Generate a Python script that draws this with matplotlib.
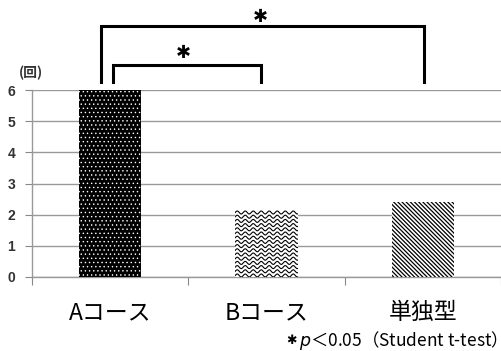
import numpy as np
import matplotlib.pyplot as plt

plt.rcParams['font.family'] = ['Noto Sans CJK JP', 'DejaVu Sans']
plt.rcParams['hatch.linewidth'] = 1.0

# data
categories = ['Aコース', 'Bコース', '単独型']
values = [6.0, 2.2, 2.4]
y_ticks = [0, 1, 2, 3, 4, 5, 6]
unit_label = '(回)'
footnote = '$p$＜0.05（Student t-test）'

fig = plt.figure(figsize=(5.01, 3.51), dpi=100)
ax = fig.add_axes([32/501, 74/351, 1 - 32/501, 187/351])

x = np.arange(len(categories))
bars = ax.bar(x, values, width=0.4, zorder=3)

# A: black with small white dots
bars[0].set_facecolor('black')
bars[0].set_edgecolor('white')
bars[0].set_hatch('....')
bars[0].set_linewidth(0)
if hasattr(bars[0], 'set_hatch_linewidth'):
    bars[0].set_hatch_linewidth(0.5)

# B: white with wavy lines (texture clipped to the bar)
bars[1].set_facecolor('white')
bars[1].set_linewidth(0)
bx0 = bars[1].get_x()
bw = bars[1].get_width()
bh = bars[1].get_height()
xs = np.linspace(bx0, bx0 + bw, 300)
px_x = 1 / 156.3
px_y = 1 / 31.17
period = 8 * px_x
amp = 1.5 * px_y
yy = amp
while yy < bh - amp:
    ln, = ax.plot(xs, yy + amp * np.sin(2 * np.pi * (xs - bx0) / period),
                  color='black', lw=0.8, zorder=4)
    ln.set_clip_path(bars[1])
    yy += 4.2 * px_y

# 単独型: dense diagonal lines
bars[2].set_facecolor('white')
bars[2].set_edgecolor('black')
bars[2].set_hatch('\\' * 8)
bars[2].set_linewidth(0)
if hasattr(bars[2], 'set_hatch_linewidth'):
    bars[2].set_hatch_linewidth(0.9)

ax.set_xlim(-0.5, 2.5)
ax.set_ylim(0, 6)
ax.set_yticks(y_ticks)
ax.set_yticklabels([str(t) for t in y_ticks], fontsize=10, fontweight='bold',
                   color='#333333', family=['Liberation Sans'])
ax.set_xticks([-0.5, 0.5, 1.5, 2.5])
ax.set_xticklabels([])
ax.tick_params(axis='x', length=6, color='#888888', direction='out')
ax.tick_params(axis='y', length=5, color='#888888', pad=7)
for i, c in enumerate(categories):
    ax.text(i, -1.15, c, ha='center', va='center', fontsize=16.5)

ax.grid(axis='y', color='#999999', lw=1.0, zorder=0)
for s in ['top', 'right']:
    ax.spines[s].set_visible(False)
for s in ['left', 'bottom']:
    ax.spines[s].set_color('#999999')
    ax.spines[s].set_linewidth(1.0)

ax.text(-0.506, 6.54, unit_label, ha='center', va='center', fontsize=10,
        fontweight='bold', color='#333333')

# significance brackets
def bracket(x0, x1, ybot, ytop, sx, sy):
    ax.plot([x0, x0, x1, x1], [ybot, ytop, ytop, ybot], color='black', lw=2.2,
            clip_on=False, zorder=5, solid_joinstyle='miter')
    ax.text(sx, sy, '✱', ha='center', va='center', fontsize=13,
            family=['DejaVu Sans'])

bracket(-0.058, 2.008, 6.26, 8.05, 0.959, 8.33)
bracket(0.018, 0.965, 6.26, 6.8, 0.466, 7.2)

note = fig.text(0.994, 11/351, footnote, ha='right', va='center', fontsize=12.5)
fig.canvas.draw()
bb = note.get_window_extent().transformed(fig.transFigure.inverted())
fig.text(bb.x0 - 0.004, 11/351, '✱', ha='right', va='center', fontsize=9,
         family=['DejaVu Sans'])

fig.savefig('out.png', dpi=100)
